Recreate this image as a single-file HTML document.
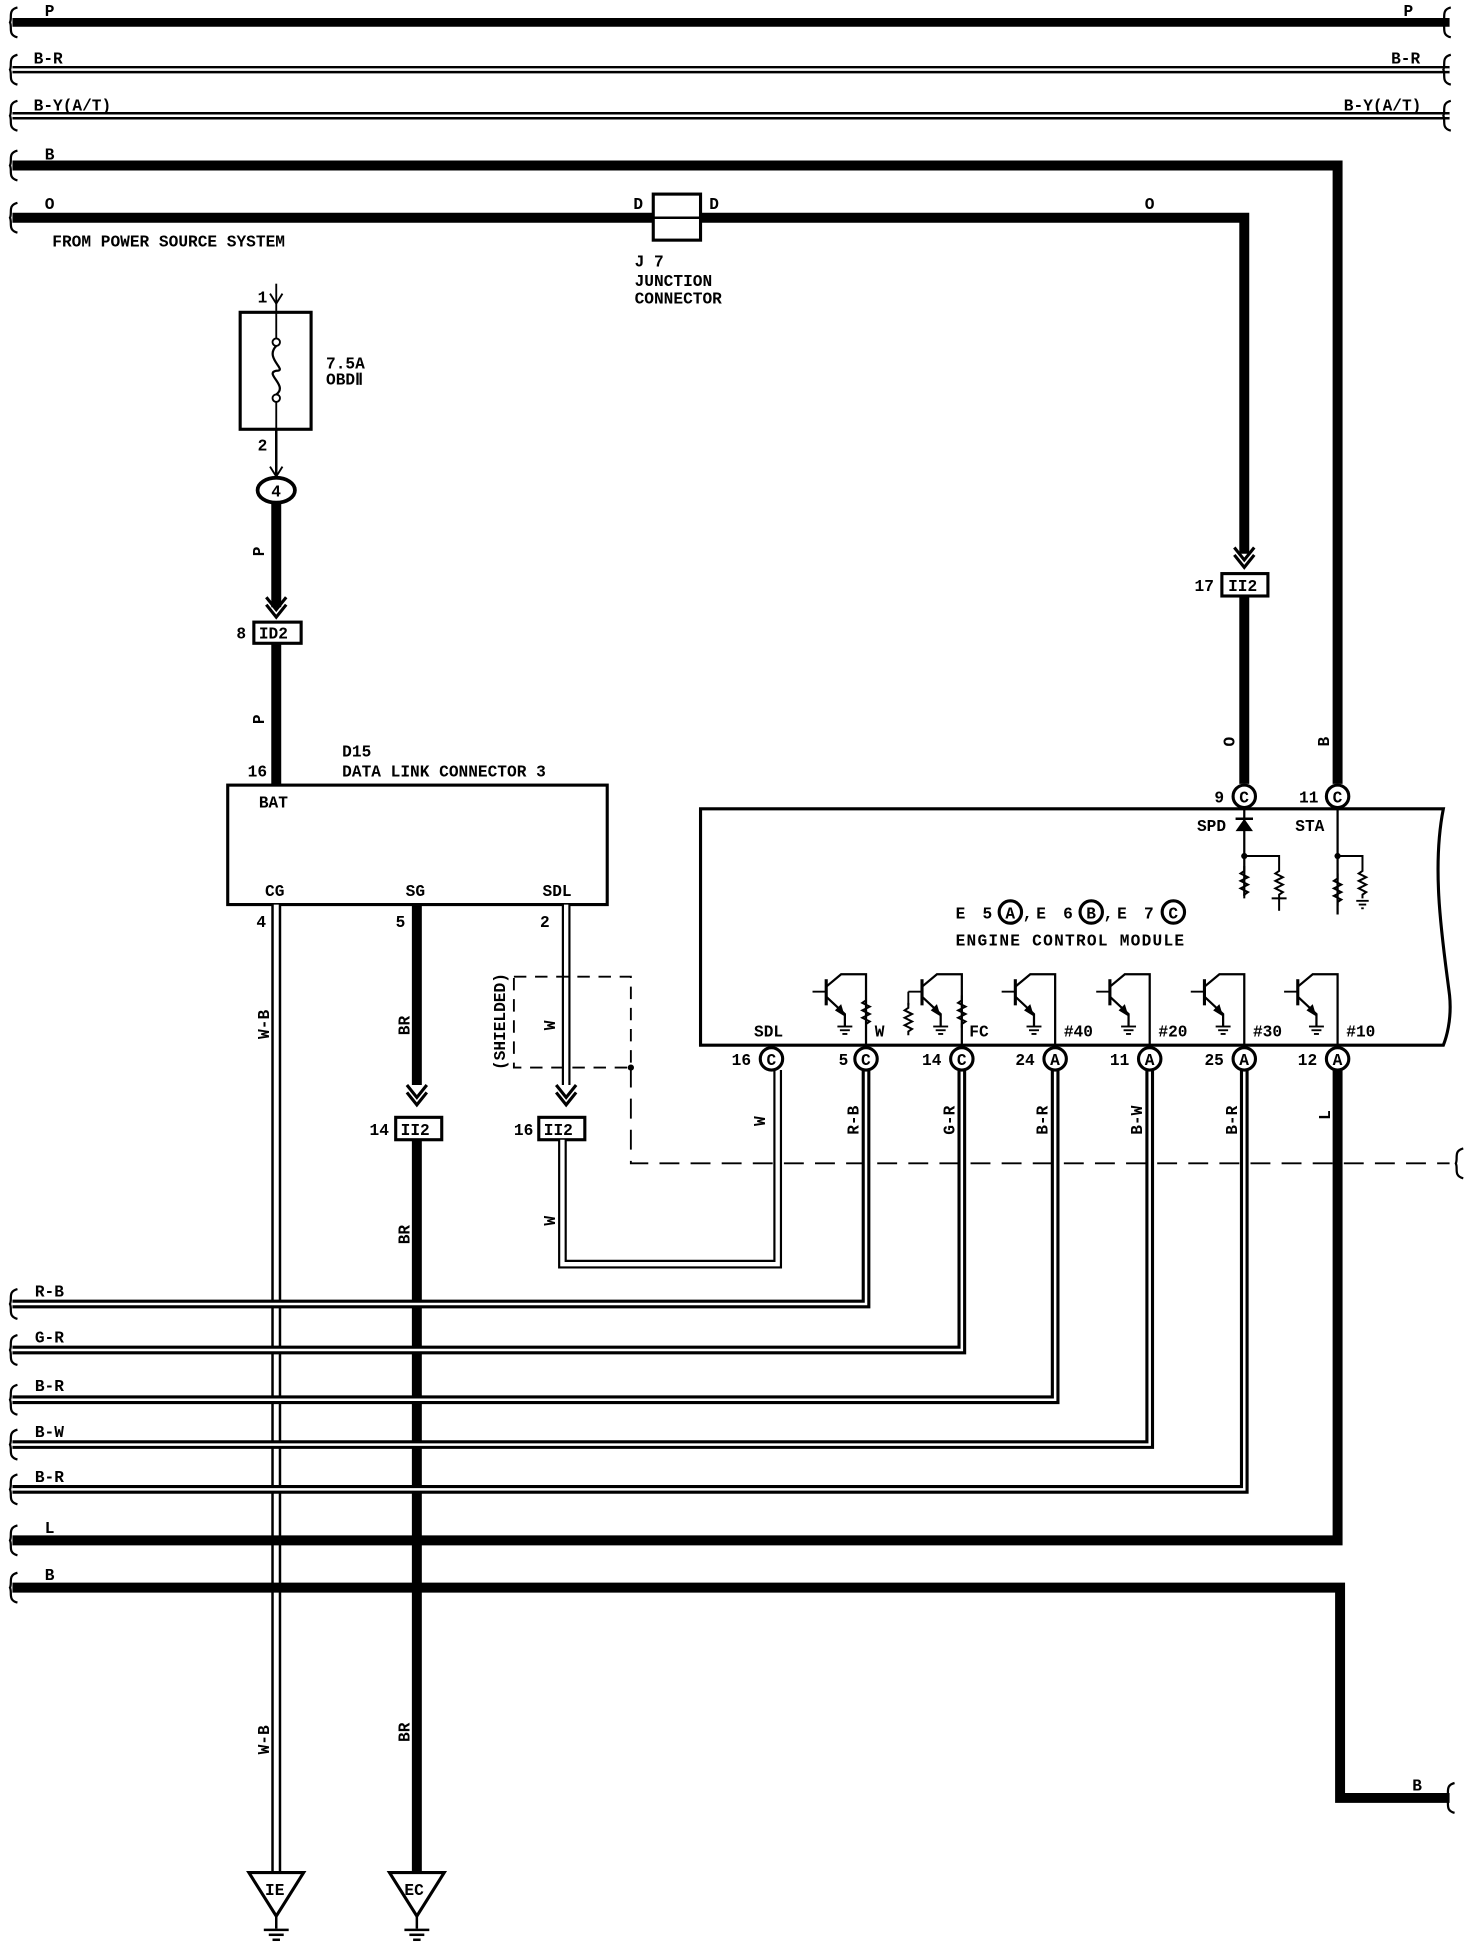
<!DOCTYPE html>
<html><head><meta charset="utf-8"><style>
html,body{margin:0;padding:0;background:#fff}
svg{display:block}
text{font-family:"Liberation Mono",monospace;font-weight:bold;font-size:13px;fill:#000}
</style></head><body>
<svg width="1472" height="1946" viewBox="0 0 1183 1564" xmlns="http://www.w3.org/2000/svg">
<defs>
<g id="tr">
 <line x1="-32" y1="787" x2="-32" y2="808" stroke="#000" stroke-width="2.5"/>
 <line x1="-43" y1="797" x2="-32" y2="797" stroke="#000" stroke-width="1.5"/>
 <polyline points="-32,793 -20,783 0,783 0,840" fill="none" stroke="#000" stroke-width="1.8"/>
 <polyline points="-32,801 -17,815 -17,825" fill="none" stroke="#000" stroke-width="1.8"/>
 <polygon points="-17,817 -25,812 -20,807" fill="#000"/>
 <line x1="-23" y1="825" x2="-11" y2="825" stroke="#000" stroke-width="1.5"/>
 <line x1="-21" y1="828" x2="-13" y2="828" stroke="#000" stroke-width="1.5"/>
 <line x1="-19" y1="831" x2="-15" y2="831" stroke="#000" stroke-width="1.5"/>
</g>
<g id="res"><polyline points="0,0 0,4 -3,6 3,9 -3,12 3,15 -3,18 3,21 0,23 0,26" fill="none" stroke="#000" stroke-width="1.6"/></g>
<g id="br"><path d="M14,-12 C6,-10 10,-4 8,0 C10,4 6,10 14,12" fill="none" stroke="#000" stroke-width="1.8"/></g>
<g id="gnd"><line x1="-10" y1="0" x2="10" y2="0" stroke="#000" stroke-width="2"/><line x1="-6" y1="4" x2="6" y2="4" stroke="#000" stroke-width="2"/><line x1="-3" y1="8" x2="3" y2="8" stroke="#000" stroke-width="2"/></g>
<g id="sg"><line x1="-5" y1="0" x2="5" y2="0" stroke="#000" stroke-width="1.5"/><line x1="-3" y1="3" x2="3" y2="3" stroke="#000" stroke-width="1.5"/><line x1="-1" y1="6" x2="1" y2="6" stroke="#000" stroke-width="1.5"/></g>
</defs>

<!-- top buses -->
<line x1="10" y1="18" x2="1165" y2="18" stroke="#000" stroke-width="7"/>
<line x1="10" y1="56" x2="1165" y2="56" stroke="#000" stroke-width="6"/><line x1="10" y1="56" x2="1165" y2="56" stroke="#fff" stroke-width="2"/>
<line x1="10" y1="93" x2="1165" y2="93" stroke="#000" stroke-width="6"/><line x1="10" y1="93" x2="1165" y2="93" stroke="#fff" stroke-width="2"/>
<polyline points="10,133 1075,133 1075,630" fill="none" stroke="#000" stroke-width="8"/>
<line x1="10" y1="175" x2="525" y2="175" stroke="#000" stroke-width="8"/>
<polyline points="563,175 1000,175 1000,445" fill="none" stroke="#000" stroke-width="8"/>
<line x1="1000" y1="480" x2="1000" y2="630" stroke="#000" stroke-width="8"/>
<g transform="translate(0,18)"><use href="#br"/></g><g transform="translate(0,56)"><use href="#br"/></g><g transform="translate(0,93)"><use href="#br"/></g><g transform="translate(0,133)"><use href="#br"/></g><g transform="translate(0,175)"><use href="#br"/></g>
<g transform="translate(1152,18)"><use href="#br"/></g><g transform="translate(1152,56)"><use href="#br"/></g><g transform="translate(1152,93)"><use href="#br"/></g>
<text x="36" y="13">P</text><text x="1128" y="13">P</text>
<text x="27" y="51">B-R</text><text x="1118" y="51">B-R</text>
<text x="27" y="89">B-Y(A/T)</text><text x="1080" y="89">B-Y(A/T)</text>
<text x="36" y="128">B</text><text x="36" y="168">O</text><text x="920" y="168">O</text>
<text x="42" y="198">FROM POWER SOURCE SYSTEM</text>
<!-- junction -->
<rect x="525" y="156" width="38" height="37" fill="#fff" stroke="#000" stroke-width="2.5"/>
<line x1="525" y1="175" x2="563" y2="175" stroke="#000" stroke-width="2"/>
<text x="509" y="168">D</text><text x="570" y="168">D</text>
<text x="510" y="214">J 7</text><text x="510" y="230">JUNCTION</text><text x="510" y="244">CONNECTOR</text>
<!-- 17 II2 -->
<polyline points="992,440 1000,450 1008,440" fill="none" stroke="#000" stroke-width="2.5"/>
<polyline points="992,446 1000,456 1008,446" fill="none" stroke="#000" stroke-width="2.5"/>
<rect x="982" y="461" width="37" height="18" fill="#fff" stroke="#000" stroke-width="2.5"/>
<text x="987" y="475">II2</text><text x="960" y="475">17</text>
<text x="992" y="600" transform="rotate(-90 992 600)">O</text>
<text x="1068" y="600" transform="rotate(-90 1068 600)">B</text>
<!-- fuse -->
<line x1="222" y1="228" x2="222" y2="251" stroke="#000" stroke-width="1.5"/>
<polyline points="217,236 222,244 227,236" fill="none" stroke="#000" stroke-width="1.5"/>
<rect x="193" y="251" width="57" height="94" fill="#fff" stroke="#000" stroke-width="2.5"/>
<line x1="222" y1="251" x2="222" y2="272" stroke="#000" stroke-width="1.5"/>
<line x1="222" y1="322" x2="222" y2="345" stroke="#000" stroke-width="1.5"/>
<circle cx="222" cy="275" r="3" fill="#fff" stroke="#000" stroke-width="1.5"/>
<circle cx="222" cy="320" r="3" fill="#fff" stroke="#000" stroke-width="1.5"/>
<path d="M222,278 C212,288 232,298 222,298 C212,300 232,310 222,317" fill="none" stroke="#000" stroke-width="1.8"/>
<text x="207" y="243">1</text><text x="207" y="362">2</text>
<text x="262" y="296">7.5A</text><text x="262" y="309">OBDⅡ</text>
<line x1="222" y1="345" x2="222" y2="385" stroke="#000" stroke-width="2"/>
<polyline points="217,375 222,383 227,375" fill="none" stroke="#000" stroke-width="1.5"/>
<ellipse cx="222" cy="394" rx="15" ry="10" fill="#fff" stroke="#000" stroke-width="3"/>
<text x="218" y="399">4</text>
<line x1="222" y1="404" x2="222" y2="488" stroke="#000" stroke-width="8"/>
<polyline points="214,480 222,490 230,480" fill="none" stroke="#000" stroke-width="2.5"/>
<polyline points="214,486 222,496 230,486" fill="none" stroke="#000" stroke-width="2.5"/>
<rect x="204" y="500" width="38" height="17" fill="#fff" stroke="#000" stroke-width="2.5"/>
<text x="208" y="513">ID2</text><text x="190" y="513">8</text>
<line x1="222" y1="517" x2="222" y2="631" stroke="#000" stroke-width="8"/>
<text x="212" y="447" transform="rotate(-90 212 447)">P</text>
<text x="212" y="582" transform="rotate(-90 212 582)">P</text>
<text x="199" y="624">16</text>
<!-- DLC -->
<rect x="183" y="631" width="305" height="96" fill="#fff" stroke="#000" stroke-width="2.5"/>
<text x="208" y="649">BAT</text><text x="213" y="720">CG</text><text x="326" y="720">SG</text><text x="436" y="720">SDL</text>
<text x="275" y="608">D15</text><text x="275" y="624">DATA LINK CONNECTOR 3</text>
<text x="206" y="745">4</text><text x="318" y="745">5</text><text x="434" y="745">2</text>
<!-- CG -->
<line x1="222" y1="727" x2="222" y2="1505" stroke="#000" stroke-width="8"/>
<line x1="222" y1="727" x2="222" y2="1505" stroke="#fff" stroke-width="4"/>
<text x="216" y="835" transform="rotate(-90 216 835)">W-B</text>
<text x="216" y="1410" transform="rotate(-90 216 1410)">W-B</text>
<polygon points="200,1505 244,1505 222,1540" fill="#fff" stroke="#000" stroke-width="2.5"/>
<text x="213" y="1523">IE</text>
<line x1="222" y1="1540" x2="222" y2="1550" stroke="#000" stroke-width="2"/>
<g transform="translate(222,1551)"><use href="#gnd"/></g>
<!-- SG -->
<line x1="335" y1="727" x2="335" y2="872" stroke="#000" stroke-width="8"/>
<polyline points="327,872 335,882 343,872" fill="none" stroke="#000" stroke-width="2.5"/>
<polyline points="327,878 335,888 343,878" fill="none" stroke="#000" stroke-width="2.5"/>
<rect x="318" y="898" width="37" height="18" fill="#fff" stroke="#000" stroke-width="2.5"/>
<text x="322" y="912">II2</text><text x="297" y="912">14</text>
<line x1="335" y1="916" x2="335" y2="1505" stroke="#000" stroke-width="8"/>
<text x="329" y="832" transform="rotate(-90 329 832)">BR</text>
<text x="329" y="1000" transform="rotate(-90 329 1000)">BR</text>
<text x="329" y="1400" transform="rotate(-90 329 1400)">BR</text>
<polygon points="313,1505 357,1505 335,1540" fill="#fff" stroke="#000" stroke-width="2.5"/>
<text x="325" y="1523">EC</text>
<line x1="335" y1="1540" x2="335" y2="1550" stroke="#000" stroke-width="2"/>
<g transform="translate(335,1551)"><use href="#gnd"/></g>
<!-- SDL -->
<line x1="455" y1="727" x2="455" y2="872" stroke="#000" stroke-width="7"/><line x1="455" y1="727" x2="455" y2="872" stroke="#fff" stroke-width="3.5"/>
<polyline points="447,872 455,882 463,872" fill="none" stroke="#000" stroke-width="2.5"/>
<polyline points="447,878 455,888 463,878" fill="none" stroke="#000" stroke-width="2.5"/>
<rect x="433" y="898" width="37" height="18" fill="#fff" stroke="#000" stroke-width="2.5"/>
<text x="437" y="912">II2</text><text x="413" y="912">16</text>
<polyline points="452,916 452,1016 625,1016 625,860" fill="none" stroke="#000" stroke-width="7"/>
<polyline points="452,916 452,1016 625,1016 625,860" fill="none" stroke="#fff" stroke-width="3.5"/>
<text x="446" y="828" transform="rotate(-90 446 828)">W</text>
<text x="446" y="985" transform="rotate(-90 446 985)">W</text>
<text x="615" y="905" transform="rotate(-90 615 905)">W</text>
<rect x="413" y="785" width="94" height="73" fill="none" stroke="#000" stroke-width="1.5" stroke-dasharray="10,7"/>
<text x="406" y="860" transform="rotate(-90 406 860)">(SHIELDED)</text>
<circle cx="507" cy="858" r="2.5" fill="#000"/>
<polyline points="507,858 507,935 1165,935" fill="none" stroke="#000" stroke-width="1.5" stroke-dasharray="16,9"/>
<g transform="translate(1162,935)"><use href="#br"/></g>

<!-- lower wires -->
<polyline points="696,860 696,1048 10,1048" fill="none" stroke="#000" stroke-width="7"/>
<polyline points="696,860 696,1048 10,1048" fill="none" stroke="#fff" stroke-width="2"/>
<polyline points="773,860 773,1085 10,1085" fill="none" stroke="#000" stroke-width="7"/>
<polyline points="773,860 773,1085 10,1085" fill="none" stroke="#fff" stroke-width="2"/>
<polyline points="848,860 848,1125 10,1125" fill="none" stroke="#000" stroke-width="7"/>
<polyline points="848,860 848,1125 10,1125" fill="none" stroke="#fff" stroke-width="2"/>
<polyline points="924,860 924,1161 10,1161" fill="none" stroke="#000" stroke-width="7"/>
<polyline points="924,860 924,1161 10,1161" fill="none" stroke="#fff" stroke-width="2"/>
<polyline points="1000,860 1000,1197 10,1197" fill="none" stroke="#000" stroke-width="7"/>
<polyline points="1000,860 1000,1197 10,1197" fill="none" stroke="#fff" stroke-width="2"/>
<polyline points="1075,860 1075,1238 10,1238" fill="none" stroke="#000" stroke-width="8"/>
<polyline points="10,1276 1077,1276 1077,1445 1165,1445" fill="none" stroke="#000" stroke-width="8"/>
<g transform="translate(0,1048)"><use href="#br"/></g><g transform="translate(0,1085)"><use href="#br"/></g><g transform="translate(0,1125)"><use href="#br"/></g><g transform="translate(0,1161)"><use href="#br"/></g><g transform="translate(0,1197)"><use href="#br"/></g><g transform="translate(0,1238)"><use href="#br"/></g><g transform="translate(0,1276)"><use href="#br"/></g>
<g transform="translate(1155,1445)"><use href="#br"/></g>
<text x="28" y="1042">R-B</text><text x="28" y="1079">G-R</text><text x="28" y="1118">B-R</text><text x="28" y="1155">B-W</text><text x="28" y="1191">B-R</text><text x="36" y="1232">L</text><text x="36" y="1270">B</text><text x="1135" y="1439">B</text>
<text x="690" y="912" transform="rotate(-90 690 912)">R-B</text>
<text x="767" y="912" transform="rotate(-90 767 912)">G-R</text>
<text x="842" y="912" transform="rotate(-90 842 912)">B-R</text>
<text x="918" y="912" transform="rotate(-90 918 912)">B-W</text>
<text x="994" y="912" transform="rotate(-90 994 912)">B-R</text>
<text x="1069" y="900" transform="rotate(-90 1069 900)">L</text>

<!-- ECM -->
<path d="M563,650 L1160,650 C1150,700 1160,760 1165,800 C1167,820 1162,835 1160,840 L563,840 Z" fill="#fff" stroke="#000" stroke-width="2.5"/>
<text x="768" y="738" style="letter-spacing:3px">E 5</text>
<circle cx="812" cy="733" r="9" fill="#fff" stroke="#000" stroke-width="2.5"/><text x="808" y="738">A</text>
<text x="822" y="738" style="letter-spacing:3px">,E 6</text>
<circle cx="877" cy="733" r="9" fill="#fff" stroke="#000" stroke-width="2.5"/><text x="873" y="738">B</text>
<text x="887" y="738" style="letter-spacing:3px">,E 7</text>
<circle cx="943" cy="733" r="9" fill="#fff" stroke="#000" stroke-width="2.5"/><text x="939" y="738">C</text>
<text x="768" y="760" style="letter-spacing:1px">ENGINE CONTROL MODULE</text>

<!-- SPD / STA internals -->
<line x1="1000" y1="650" x2="1000" y2="720" stroke="#000" stroke-width="1.8"/>
<polygon points="993,668 1007,668 1000,658" fill="#000"/>
<line x1="993" y1="658" x2="1007" y2="658" stroke="#000" stroke-width="2"/>
<circle cx="1000" cy="688" r="2.5" fill="#000"/>
<polyline points="1000,688 1028,688 1028,696" fill="none" stroke="#000" stroke-width="1.6"/>
<g transform="translate(1000,696)"><use href="#res"/></g>
<g transform="translate(1028,696)"><use href="#res"/></g>
<line x1="1028" y1="722" x2="1028" y2="732" stroke="#000" stroke-width="1.6"/>
<line x1="1022" y1="722" x2="1034" y2="722" stroke="#000" stroke-width="1.6"/>
<text x="962" y="668">SPD</text><text x="1041" y="668">STA</text>
<line x1="1075" y1="650" x2="1075" y2="735" stroke="#000" stroke-width="1.8"/>
<circle cx="1075" cy="688" r="2.5" fill="#000"/>
<polyline points="1075,688 1095,688 1095,696" fill="none" stroke="#000" stroke-width="1.6"/>
<g transform="translate(1075,702)"><use href="#res"/></g>
<g transform="translate(1095,696)"><use href="#res"/></g>
<g transform="translate(1095,724)"><use href="#sg"/></g>

<!-- transistors -->
<g transform="translate(696,0)"><use href="#tr"/><g transform="translate(0,800)"><use href="#res"/></g></g>
<g transform="translate(773,0)"><use href="#tr"/><g transform="translate(0,800)"><use href="#res"/></g>
 <polyline points="-43,797 -43,808" fill="none" stroke="#000" stroke-width="1.5"/><g transform="translate(-43,806)"><use href="#res"/></g></g>
<g transform="translate(848,0)"><use href="#tr"/></g>
<g transform="translate(924,0)"><use href="#tr"/></g>
<g transform="translate(1000,0)"><use href="#tr"/></g>
<g transform="translate(1075,0)"><use href="#tr"/></g>
<text x="606" y="833">SDL</text><text x="703" y="833">W</text><text x="779" y="833">FC</text>
<text x="855" y="833">#40</text><text x="931" y="833">#20</text><text x="1007" y="833">#30</text><text x="1082" y="833">#10</text>

<!-- connectors -->
<g fill="#fff" stroke="#000" stroke-width="2.5">
<circle cx="1000" cy="640" r="9"/><circle cx="1075" cy="640" r="9"/>
<circle cx="620" cy="851" r="9"/><circle cx="696" cy="851" r="9"/><circle cx="773" cy="851" r="9"/>
<circle cx="848" cy="851" r="9"/><circle cx="924" cy="851" r="9"/><circle cx="1000" cy="851" r="9"/><circle cx="1075" cy="851" r="9"/>
</g>
<text x="996" y="645">C</text><text x="1071" y="645">C</text>
<text x="976" y="645">9</text><text x="1044" y="645">11</text>
<text x="616" y="856">C</text><text x="692" y="856">C</text><text x="769" y="856">C</text>
<text x="844" y="856">A</text><text x="920" y="856">A</text><text x="996" y="856">A</text><text x="1071" y="856">A</text>
<text x="588" y="856">16</text><text x="674" y="856">5</text><text x="741" y="856">14</text><text x="816" y="856">24</text>
<text x="892" y="856">11</text><text x="968" y="856">25</text><text x="1043" y="856">12</text>
</svg></body></html>
